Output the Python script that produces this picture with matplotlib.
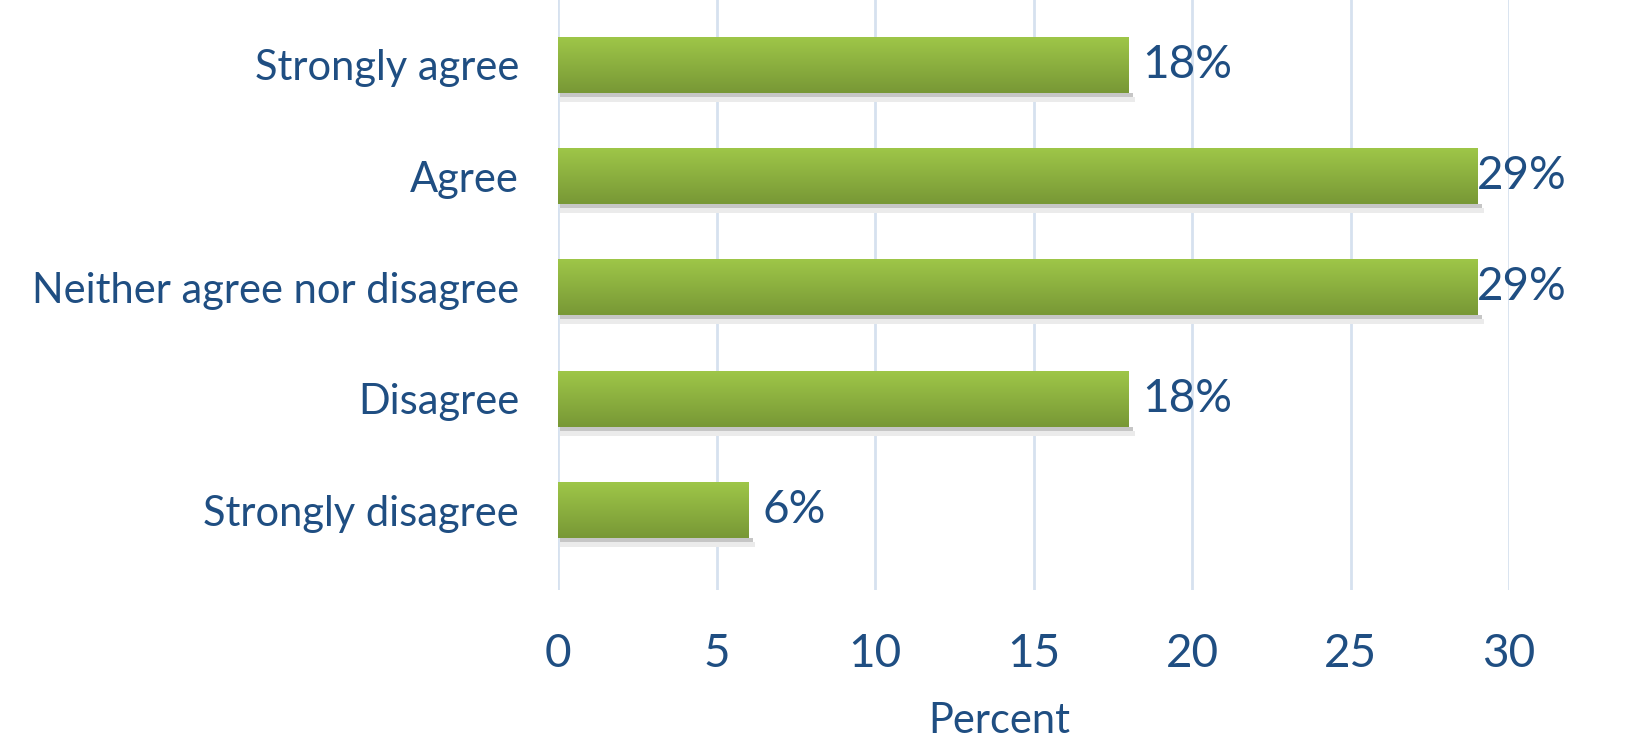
import numpy as np
import matplotlib
matplotlib.use("Agg")
from matplotlib import pyplot as plt
from matplotlib.patches import Rectangle

categories = ["Strongly agree", "Agree", "Neither agree nor disagree", "Disagree", "Strongly disagree"]
values = [18, 29, 29, 18, 6]
bar_labels = ["18%", "29%", "29%", "18%", "6%"]
xticks = [0, 5, 10, 15, 20, 25, 30]

txt = "#1F4E82"
plt.rcParams['font.family'] = ['Lato', 'DejaVu Sans']

W, H = 1636, 740
fig = plt.figure(figsize=(W / 100, H / 100), dpi=100)
ax = fig.add_axes([558 / W, 1 - 590 / H, (1509 - 558) / W, 590 / H])

for s in ax.spines.values():
    s.set_visible(False)

for x in xticks:
    ax.axvline(x, color="#D6E1EF", lw=2, zorder=0)

# vertical gradient for bars
grad = np.linspace(0, 1, 64).reshape(-1, 1)
top = np.array([0x9E, 0xC6, 0x48]) / 255
bot = np.array([0x78, 0x98, 0x36]) / 255
img = top + (bot - top) * grad[..., None]
img = img.reshape(64, 1, 3)

bh = 0.5
px = 1 / 111.25  # one pixel in data units (y)
for i, v in enumerate(values):
    y0 = i - bh / 2
    # shadow
    ax.add_patch(Rectangle((0.05, y0 + bh), v + 0.1, 4 * px, color="#C6C6C6", lw=0, zorder=1))
    ax.add_patch(Rectangle((0.05, y0 + bh + 4 * px), v + 0.15, 5 * px, color="#EBEBEB", lw=0, zorder=1))
    ax.imshow(img, extent=(0, v, y0 + bh, y0), aspect="auto", interpolation="bilinear", zorder=2)
    off = 0 if v >= 29 else 10
    ax.annotate(bar_labels[i], (v, i), xytext=(off, 0), textcoords="offset points",
                va="center", ha="left", fontsize=33, color=txt, zorder=3)

ax.set_xlim(0, 30)
ax.set_ylim(4.719, -0.584)
ax.set_xticks(xticks)
ax.set_xticklabels([str(x) for x in xticks])
ax.set_yticks(range(len(categories)))
ax.set_yticklabels(categories)
ax.tick_params(axis="both", length=0, colors=txt)
ax.tick_params(axis="x", pad=31, labelsize=33)
ax.tick_params(axis="y", pad=28, labelsize=30)

fig.text(999 / W, 1 - 733 / H, "Percent", ha="center", va="baseline", fontsize=30, color=txt)

fig.savefig("out.png", dpi=100)
